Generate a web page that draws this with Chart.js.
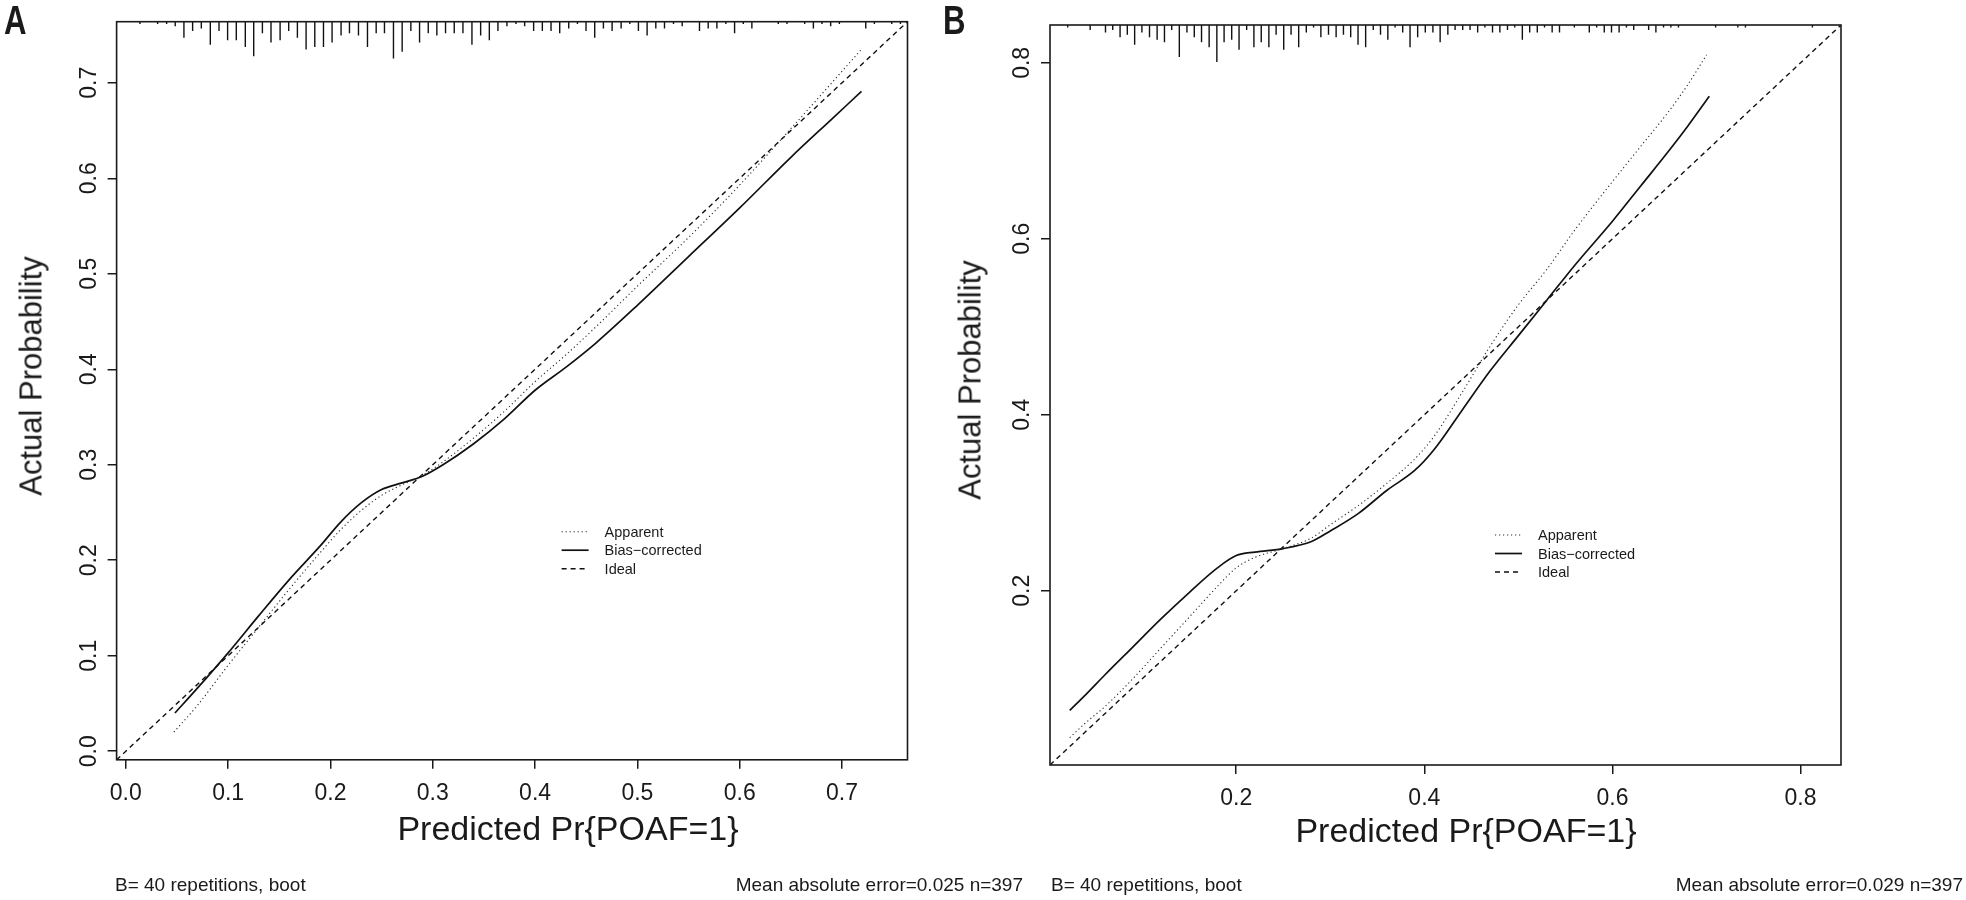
<!DOCTYPE html>
<html><head><meta charset="utf-8">
<script src="https://cdn.jsdelivr.net/npm/chart.js@4.4.1/dist/chart.umd.min.js"></script>
<style>
html,body{margin:0;padding:0;background:#fff;}
body{width:1966px;height:900px;position:relative;overflow:hidden;font-family:"Liberation Sans",Arial,sans-serif;color:#1a1a1a;}
canvas{position:absolute;top:0;}
#cA{left:0;} #cB{left:935px;}
.lbl{position:absolute;font-weight:bold;font-size:40px;line-height:40px;transform:scaleX(0.78);transform-origin:0 0;}
.note{position:absolute;font-size:19px;line-height:19px;white-space:nowrap;}
.xt{position:absolute;font-size:34px;line-height:34px;white-space:nowrap;transform:translateX(-50%);}
.yt{position:absolute;font-size:31px;line-height:31px;white-space:nowrap;transform:translate(-50%,-50%) rotate(-90deg);}
</style></head><body>
<canvas id="cA" width="935" height="900"></canvas>
<canvas id="cB" width="1031" height="900"></canvas>
<div class="lbl" style="left:4px;top:0px">A</div>
<div class="lbl" style="left:943px;top:0px">B</div>
<div class="xt" id="xtA" style="left:568px;top:811px"></div>
<div class="xt" id="xtB" style="left:1466px;top:813px"></div>
<div class="yt" id="ytA" style="left:31px;top:376px"></div>
<div class="yt" id="ytB" style="left:970px;top:380px"></div>
<div class="note" style="left:115px;top:875px">B= 40 repetitions, boot</div>
<div class="note" style="right:943px;top:875px">Mean absolute error=0.025 n=397</div>
<div class="note" style="left:1051px;top:875px">B= 40 repetitions, boot</div>
<div class="note" style="right:3px;top:875px">Mean absolute error=0.029 n=397</div>
<script>
// ---------- Panel A data ----------
const rangeA = [-0.009, 0.764];
const ticksA = [0.0, 0.1, 0.2, 0.3, 0.4, 0.5, 0.6, 0.7];
const apparentA_x = [0.047,0.07,0.10,0.13,0.16,0.19,0.21,0.23,0.25,0.27,0.29,0.31,0.34,0.37,0.40,0.43,0.46,0.50,0.55,0.60,0.65,0.69,0.719];
const apparentA_y = [0.020,0.048,0.090,0.130,0.170,0.208,0.232,0.252,0.268,0.279,0.289,0.303,0.328,0.356,0.387,0.415,0.445,0.487,0.538,0.593,0.652,0.700,0.735];
const biasA_x = [0.048,0.07,0.10,0.13,0.16,0.19,0.21,0.23,0.25,0.27,0.29,0.31,0.34,0.37,0.40,0.43,0.46,0.50,0.55,0.60,0.65,0.69,0.719];
const biasA_y = [0.040,0.066,0.103,0.142,0.180,0.215,0.240,0.260,0.274,0.281,0.288,0.300,0.322,0.348,0.378,0.402,0.428,0.467,0.518,0.569,0.622,0.662,0.691];
const idealA = [-0.009, 0.764];
const rugA_x = [0.0138,0.0311,0.0399,0.0483,0.0568,0.0653,0.0738,0.0826,0.0911,0.0995,0.1080,0.1168,0.1250,0.1335,0.1419,0.1508,0.1592,0.1677,0.1762,0.1847,0.1932,0.2016,0.2104,0.2186,0.2274,0.2362,0.2447,0.2528,0.2616,0.2701,0.2786,0.2871,0.2956,0.3040,0.3125,0.3210,0.3295,0.3383,0.3468,0.3553,0.3637,0.3725,0.3813,0.3898,0.3986,0.4071,0.4156,0.4241,0.4329,0.4414,0.4498,0.4583,0.4668,0.4753,0.4841,0.4926,0.5010,0.5095,0.5180,0.5265,0.5353,0.5438,0.5607,0.5692,0.5777,0.5865,0.5950,0.6035,0.6119,0.6377,0.6462,0.6635,0.6720,0.6804,0.6889,0.6974,0.7232,0.7316,0.7486,0.7571];
const rugA_n = [1,1,1,2,7,4,3,10,4,8,8,11,15,5,9,8,4,7,12,11,11,9,6,5,6,11,5,5,16,13,4,9,5,6,5,5,5,10,6,8,4,2,1,2,4,4,4,5,3,1,4,7,3,4,3,1,4,6,3,3,1,2,4,3,3,1,5,1,3,1,1,1,3,1,2,1,3,1,1,1];

// ---------- Panel B data ----------
const rangeB = [0.002, 0.843];
const ticksB = [0.2, 0.4, 0.6, 0.8];
const apparentB_x = [0.023,0.04,0.06,0.09,0.12,0.15,0.18,0.20,0.22,0.25,0.28,0.30,0.33,0.36,0.39,0.41,0.44,0.47,0.50,0.53,0.56,0.60,0.63,0.66,0.68,0.70];
const apparentB_y = [0.033,0.050,0.068,0.100,0.135,0.170,0.205,0.226,0.238,0.248,0.260,0.275,0.297,0.322,0.350,0.375,0.425,0.478,0.525,0.565,0.610,0.665,0.705,0.745,0.775,0.809];
const biasB_x = [0.023,0.04,0.06,0.09,0.12,0.15,0.18,0.20,0.22,0.25,0.28,0.30,0.33,0.36,0.39,0.41,0.44,0.47,0.50,0.53,0.56,0.60,0.63,0.66,0.68,0.703];
const biasB_y = [0.064,0.082,0.104,0.136,0.168,0.198,0.226,0.240,0.244,0.248,0.256,0.268,0.288,0.314,0.337,0.360,0.405,0.450,0.490,0.530,0.570,0.620,0.660,0.700,0.728,0.762];
const idealB = [0.002, 0.843];
const rugB_x = [0.0208,0.0447,0.0610,0.0687,0.0765,0.0842,0.0920,0.0997,0.1078,0.1159,0.1237,0.1314,0.1395,0.1476,0.1554,0.1631,0.1712,0.1794,0.1871,0.1952,0.2030,0.2111,0.2188,0.2266,0.2347,0.2424,0.2505,0.2583,0.2664,0.2745,0.2822,0.2900,0.2981,0.3062,0.3140,0.3217,0.3295,0.3376,0.3457,0.3534,0.3612,0.3689,0.3770,0.3848,0.3929,0.4010,0.4091,0.4168,0.4250,0.4327,0.4408,0.4486,0.4567,0.4644,0.4725,0.4803,0.4884,0.4961,0.5042,0.5120,0.5201,0.5278,0.5359,0.5437,0.5595,0.5754,0.5832,0.5913,0.5990,0.6071,0.6149,0.6226,0.6385,0.6462,0.6543,0.6621,0.6702,0.7097,0.7333,0.7414,0.8126];
const rugB_n = [1,2,3,2,5,4,8,3,5,6,7,2,13,3,5,7,9,15,7,6,10,2,9,7,9,4,10,4,9,3,1,5,4,5,4,5,8,9,2,4,6,1,3,9,5,3,3,7,4,2,2,2,3,1,3,3,2,1,6,3,3,1,3,3,1,3,1,3,3,3,1,2,2,3,1,1,1,1,1,1,1];

const legendLabels = ['Apparent', 'Bias\u2212corrected', 'Ideal'];
const xTitle = 'Predicted Pr{POAF=1}';
const yTitle = 'Actual Probability';

// ---------- helpers ----------
const INK = '#1a1a1a';
const FONT = '"Liberation Sans", Arial, Helvetica, sans-serif';
const TICKFONT = {family: FONT, size: 23};

['xtA', 'xtB'].forEach(id => { document.getElementById(id).textContent = xTitle; });
['ytA', 'ytB'].forEach(id => { document.getElementById(id).textContent = yTitle; });

function pts(xs, ys) { return xs.map((x, i) => ({x: x, y: ys[i]})); }
function rugPts(xs, ns, range) {
  const top = range[1];
  const unit = 0.05 * (range[1] - range[0]) / Math.max(...ns);
  const out = [];
  xs.forEach((x, i) => { out.push({x: x, y: top}, {x: x, y: top - ns[i] * unit}, {x: x, y: null}); });
  return out;
}

const framePlugin = {
  id: 'frame',
  afterDatasetsDraw(chart) {
    const {ctx, chartArea: a} = chart;
    ctx.save();
    ctx.strokeStyle = INK;
    ctx.lineWidth = 1.6;
    ctx.strokeRect(a.left, a.top, a.right - a.left, a.bottom - a.top);
    const lg = chart.options.plugins.frame;
    ctx.font = '14.5px ' + FONT;
    ctx.textBaseline = 'middle';
    ctx.textAlign = 'left';
    chart.data.datasets.forEach((ds) => {
      if (ds.legendRow === undefined) return;
      const y = a.top + lg.rowY[ds.legendRow];
      ctx.beginPath();
      ctx.setLineDash(ds.borderDash || []);
      ctx.lineWidth = ds.borderWidth;
      ctx.strokeStyle = ds.borderColor;
      ctx.moveTo(a.left + lg.x0, y);
      ctx.lineTo(a.left + lg.x1, y);
      ctx.stroke();
      ctx.setLineDash([]);
      ctx.fillStyle = INK;
      ctx.fillText(ds.label, a.left + lg.tx, y + 1);
    });
    ctx.restore();
  }
};

function makeChart(id, c) {
  return new Chart(document.getElementById(id), {
    type: 'line',
    data: {datasets: [
      {label: legendLabels[0], legendRow: 0, data: pts(c.ax, c.ay), borderColor: '#2a2a2a', borderWidth: 1.1, borderDash: [1.2, 2.8], pointRadius: 0, cubicInterpolationMode: 'monotone'},
      {label: legendLabels[1], legendRow: 1, data: pts(c.bx, c.by), borderColor: '#111', borderWidth: 1.7, pointRadius: 0, cubicInterpolationMode: 'monotone'},
      {label: legendLabels[2], legendRow: 2, data: pts(c.ideal, c.ideal), borderColor: '#111', borderWidth: 1.4, borderDash: [5, 4], pointRadius: 0},
      {label: 'rug', data: rugPts(c.rx, c.rn, c.range), borderColor: '#111', borderWidth: 1.4, pointRadius: 0, spanGaps: false}
    ]},
    options: {
      responsive: false, animation: false, devicePixelRatio: 1,
      layout: {padding: {left: 0, top: c.padTop, right: c.padRight, bottom: c.padBottom}},
      plugins: {legend: {display: false}, tooltip: {enabled: false},
        frame: {x0: 445, x1: 472, tx: 488, rowY: [510, 528.5, 547]}},
      scales: {
        x: {type: 'linear', min: c.range[0], max: c.range[1],
          afterBuildTicks(s) { s.ticks = c.ticks.map(v => ({value: v})); },
          afterFit(s) { s.height = 100; },
          grid: {drawOnChartArea: false, drawTicks: true, tickLength: 9, color: INK, lineWidth: 1.5},
          border: {display: false},
          ticks: {autoSkip: false, maxRotation: 0, minRotation: 0, padding: 11, color: INK,
            font: TICKFONT, callback: v => Number(v).toFixed(1)},
          title: {display: false}
        },
        y: {type: 'linear', min: c.range[0], max: c.range[1],
          afterBuildTicks(s) { s.ticks = c.ticks.map(v => ({value: v})); },
          afterFit(s) { s.width = c.yWidth; },
          grid: {drawOnChartArea: false, drawTicks: true, tickLength: 9, color: INK, lineWidth: 1.5},
          border: {display: false},
          ticks: {autoSkip: false, minRotation: 90, maxRotation: 90, crossAlign: 'center', padding: 2, color: INK,
            font: TICKFONT, callback: v => Number(v).toFixed(1)},
          title: {display: false}
        }
      }
    },
    plugins: [framePlugin]
  });
}

makeChart('cA', {range: rangeA, ticks: ticksA, ax: apparentA_x, ay: apparentA_y, bx: biasA_x, by: biasA_y, ideal: idealA,
  rx: rugA_x, rn: rugA_n, padTop: 21.7, padRight: 27.5, padBottom: 40.2, yWidth: 116.6});
makeChart('cB', {range: rangeB, ticks: ticksB, ax: apparentB_x, ay: apparentB_y, bx: biasB_x, by: biasB_y, ideal: idealB,
  rx: rugB_x, rn: rugB_n, padTop: 25, padRight: 125, padBottom: 35, yWidth: 115});
</script>
</body></html>
